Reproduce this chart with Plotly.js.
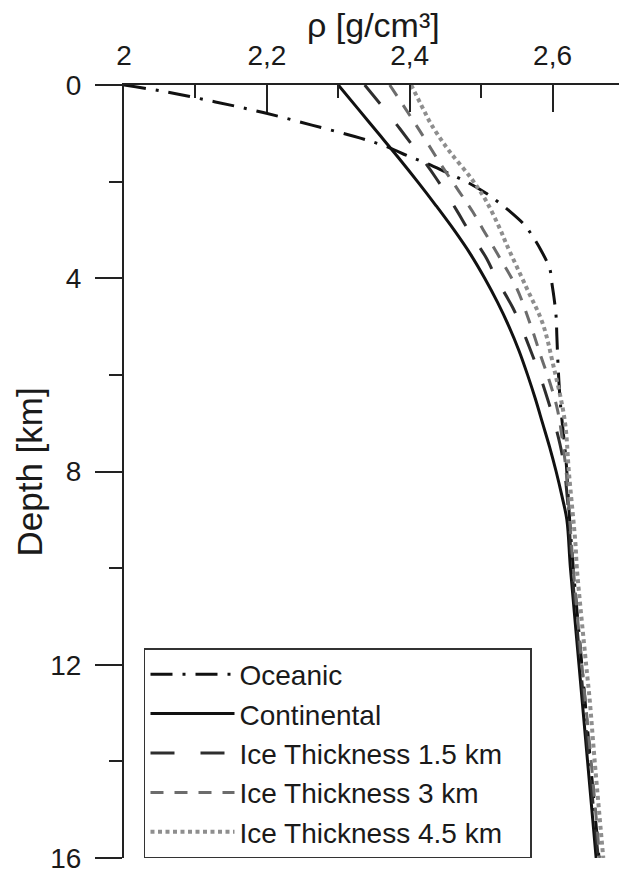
<!DOCTYPE html>
<html>
<head>
<meta charset="utf-8">
<script src="https://cdn.plot.ly/plotly-3.0.1.min.js"></script>
<style>html,body{margin:0;padding:0;background:#fff;}#chart{width:619px;height:872px;}</style>
</head>
<body>
<div id="chart"></div>
<script>
// ---- data ----
var seriesNames = ["Oceanic", "Continental", "Ice Thickness 1.5 km", "Ice Thickness 3 km", "Ice Thickness 4.5 km"];

var oceanicDepth = [0, 0.14, 0.35, 0.57, 0.83, 1.10, 1.30, 1.46, 1.60, 1.80, 2.0, 2.24, 2.40, 2.60, 2.90, 3.13, 3.40, 3.80, 4.10, 4.40, 4.80, 5.20, 5.90, 6.60, 7.80, 8.80, 10, 12, 14, 16];
var oceanicRho   = [2.000, 2.058, 2.128, 2.195, 2.263, 2.331, 2.372, 2.396, 2.420, 2.450, 2.479, 2.507, 2.522, 2.539, 2.561, 2.572, 2.583, 2.596, 2.599, 2.602, 2.605, 2.606, 2.608, 2.611, 2.619, 2.623, 2.629, 2.641, 2.653, 2.665];

var continentalDepth = [0, 0.5, 1.0, 1.5, 2.0, 2.5, 3.0, 3.5, 4.0, 4.5, 5.0, 5.5, 6.0, 6.5, 7.0, 7.5, 8.0, 8.5, 9.0, 10, 12, 14, 16];
var continentalRho   = [2.300, 2.328, 2.356, 2.384, 2.411, 2.437, 2.462, 2.485, 2.505, 2.523, 2.539, 2.553, 2.565, 2.576, 2.586, 2.596, 2.605, 2.613, 2.620, 2.625, 2.637, 2.649, 2.661];

var ice15Depth = [0, 0.9, 1.93, 2.6, 3.0, 3.6, 4.0, 4.6, 5.0, 5.6, 6.0, 6.5, 7.0, 7.7, 8.6, 10, 12, 14, 16];
var ice15Rho   = [2.337, 2.386, 2.437, 2.466, 2.482, 2.508, 2.521, 2.544, 2.556, 2.572, 2.582, 2.593, 2.603, 2.614, 2.621, 2.627, 2.639, 2.651, 2.664];

var ice3Depth = [0, 0.83, 1.72, 2.2, 2.62, 3.0, 3.5, 4.18, 5.0, 5.63, 6.1, 6.73, 7.5, 8.0, 9.0, 10, 12, 14, 16];
var ice3Rho   = [2.372, 2.409, 2.447, 2.469, 2.488, 2.503, 2.523, 2.549, 2.570, 2.584, 2.595, 2.607, 2.615, 2.619, 2.624, 2.629, 2.641, 2.654, 2.666];

var ice45Depth = [0, 0.5, 0.76, 1.0, 1.38, 1.93, 2.4, 3.0, 3.28, 4.18, 4.93, 5.8, 6.94, 8.04, 9.49, 10, 12, 12.73, 14, 16];
var ice45Rho   = [2.402, 2.419, 2.428, 2.438, 2.456, 2.486, 2.507, 2.527, 2.535, 2.563, 2.586, 2.601, 2.617, 2.623, 2.632, 2.634, 2.647, 2.652, 2.659, 2.671];

var xTickVals = [2, 2.2, 2.4, 2.6];
var yTickVals = [0, 4, 8, 12, 16];
var xTitle = "ρ [g/cm³]";
var yTitle = "Depth [km]";

// ---- styles ----
var FONT = "Liberation Sans, Arial, sans-serif";
var PAD = "\u00a0\u00a0\u00a0";
var traces = [
  {x: oceanicRho, y: oceanicDepth, name: seriesNames[0] + PAD, mode: "lines",
   line: {color: "#111111", width: 3, dash: "22px,10px,3px,10px"}},
  {x: continentalRho, y: continentalDepth, name: seriesNames[1] + PAD, mode: "lines",
   line: {color: "#111111", width: 3}},
  {x: ice15Rho, y: ice15Depth, name: seriesNames[2] + PAD, mode: "lines",
   line: {color: "#2e2e2e", width: 3, dash: "24px,26px"}},
  {x: ice3Rho, y: ice3Depth, name: seriesNames[3] + PAD, mode: "lines",
   line: {color: "#6c6c6c", width: 3, dash: "13px,11px"}},
  {x: ice45Rho, y: ice45Depth, name: seriesNames[4] + PAD, mode: "lines",
   line: {color: "#8e8e8e", width: 4, dash: "4px,3.5px"}}
];
traces.forEach(function(t){ t.line.shape = "spline"; t.line.smoothing = 1.0; t.hoverinfo = "skip"; });

var layout = {
  width: 619, height: 872,
  margin: {l: 124, r: 0, t: 85, b: 14, pad: 0},
  paper_bgcolor: "#ffffff", plot_bgcolor: "#ffffff",
  separators: ",.",
  font: {family: FONT, color: "#1a1a1a", size: 28},
  showlegend: true,
  xaxis: {
    side: "top", range: [2, 2.693], fixedrange: true,
    tickmode: "array", tickvals: xTickVals,
    ticks: "inside", ticklen: 27, tickwidth: 2, tickcolor: "#222",
    ticklabelstandoff: 7, ticklabeloverflow: "allow",
    minor: {dtick: 0.1, tick0: 2, ticks: "inside", ticklen: 13, tickwidth: 2, tickcolor: "#222"},
    showline: true, linecolor: "#222", linewidth: 2,
    showgrid: false, zeroline: false,
    tickfont: {family: FONT, size: 28, color: "#1a1a1a"}
  },
  yaxis: {
    range: [16, 0], fixedrange: true,
    tickmode: "array", tickvals: yTickVals,
    ticks: "outside", ticklen: 27, tickwidth: 2, tickcolor: "#222",
    ticklabelstandoff: 8, ticklabeloverflow: "allow",
    minor: {dtick: 2, tick0: 0, ticks: "outside", ticklen: 13, tickwidth: 2, tickcolor: "#222"},
    showline: true, linecolor: "#222", linewidth: 2,
    showgrid: false, zeroline: false,
    tickfont: {family: FONT, size: 28, color: "#1a1a1a"}
  },
  annotations: [
    {text: xTitle, xref: "paper", yref: "paper", x: 0.505, y: 1.078,
     xanchor: "center", yanchor: "middle", showarrow: false,
     font: {family: FONT, size: 34, color: "#1a1a1a"}},
    {text: yTitle, xref: "paper", yref: "paper", x: -0.1899, y: 0.5, textangle: -90,
     xanchor: "center", yanchor: "middle", showarrow: false,
     font: {family: FONT, size: 35, color: "#1a1a1a"}}
  ],
  legend: {
    x: 0.0404, xanchor: "left", y: 0, yanchor: "bottom",
    bgcolor: "#ffffff", bordercolor: "#333333", borderwidth: 1.5,
    font: {family: FONT, size: 28, color: "#1a1a1a"},
    itemwidth: 84, tracegroupgap: 0
  }
};

Plotly.newPlot("chart", traces, layout, {staticPlot: true, displayModeBar: false});
</script>
</body>
</html>
